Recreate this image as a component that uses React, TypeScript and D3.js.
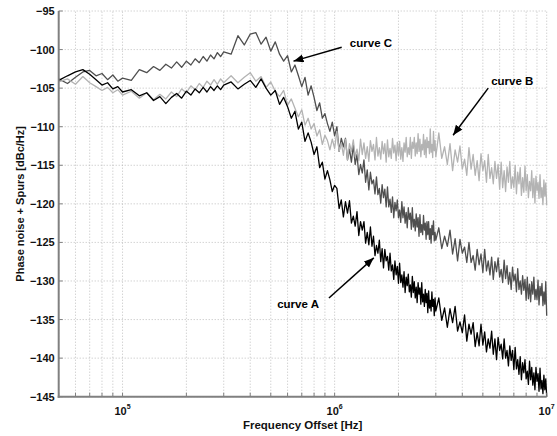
import { useEffect, useRef } from "react"
import * as d3 from "d3"

// frequency offset grid in kHz
const freqKHz = [
  50, 55, 60, 65, 70, 75, 80, 85, 90, 95, 100,
  110, 120, 130, 140, 150, 160, 170, 180, 190, 200, 210, 220, 230, 240, 250, 260, 270, 280, 290, 300,
  325, 350, 375, 400, 425, 450, 475, 500, 525, 550, 575, 600, 625, 650, 675, 700, 725, 750, 775, 800,
  825, 850, 875, 900, 925, 950, 975, 1000,
  1025, 1050, 1075, 1100, 1125, 1150, 1175, 1200, 1225, 1250, 1275, 1300, 1325, 1350, 1375, 1400, 1425, 1450, 1475, 1500,
  1525, 1550, 1575, 1600, 1625, 1650, 1675, 1700, 1725, 1750, 1775, 1800, 1825, 1850, 1875, 1900, 1925, 1950, 1975, 2000,
  2025, 2050, 2075, 2100, 2125, 2150, 2175, 2200, 2225, 2250, 2275, 2300, 2325, 2350, 2375, 2400, 2425, 2450, 2475, 2500,
  2525, 2550, 2575, 2600, 2625, 2650, 2675, 2700, 2725, 2750, 2775, 2800, 2825, 2850, 2875, 2900, 2925, 2950, 2975, 3000,
  3100, 3200, 3300, 3400, 3500, 3600, 3700, 3800, 3900, 4000,
  4100, 4200, 4300, 4400, 4500, 4600, 4700, 4800, 4900, 5000,
  5100, 5200, 5300, 5400, 5500, 5600, 5700, 5800, 5900, 6000,
  6100, 6200, 6300, 6400, 6500, 6600, 6700, 6800, 6900, 7000,
  7100, 7200, 7300, 7400, 7500, 7600, 7700, 7800, 7900, 8000,
  8100, 8200, 8300, 8400, 8500, 8600, 8700, 8800, 8900, 9000,
  9100, 9200, 9300, 9400, 9500, 9600, 9700, 9800, 9900, 10000,
]

const curveA = [
  -104.0, -103.4, -102.9, -102.6, -103.2, -103.9, -104.6, -104.3, -105.1, -104.8, -105.5,
  -105.2, -106.0, -105.6, -106.6, -106.1, -107.0, -106.2, -105.7, -106.3, -105.4, -105.9, -105.1, -105.6, -104.9, -105.5, -104.8, -105.3, -104.7, -105.2, -104.6,
  -104.2, -105.1, -104.5, -104.0, -104.9, -103.8, -105.0, -105.9, -105.3, -107.1, -106.2, -107.4, -108.9, -108.0, -110.3, -109.4, -111.9, -110.8, -112.0, -113.6,
  -112.6, -115.3, -114.6, -116.8, -115.7, -116.9, -118.4, -117.6,
  -118.0, -120.6, -119.5, -121.7, -119.7, -121.2, -119.6, -122.5, -121.6, -122.9, -121.0, -124.1, -122.3, -123.4, -122.3, -125.1, -123.7, -125.3, -123.0, -125.5,
  -124.2, -126.7, -125.4, -126.4, -124.7, -127.5, -125.8, -128.3, -125.9, -127.4, -126.8, -128.6, -126.4, -128.7, -127.9, -129.8, -127.4, -129.2, -128.1, -130.3,
  -127.7, -130.2, -129.2, -130.8, -128.8, -131.5, -129.5, -130.6, -129.1, -131.4, -130.5, -132.1, -129.4, -131.5, -130.1, -132.2, -130.8, -132.8, -130.2, -131.7,
  -130.9, -133.0, -130.2, -132.7, -131.7, -133.3, -131.1, -132.8, -131.6, -134.1, -131.3, -133.5, -132.5, -133.9, -131.4, -133.3, -132.4, -134.5, -132.2, -133.9,
  -132.2, -135.1, -133.5, -136.0, -133.6, -135.4, -133.3, -136.5, -135.3, -136.7,
  -134.4, -137.8, -135.6, -136.9, -135.4, -138.5, -136.7, -138.4, -135.6, -138.3,
  -136.6, -139.2, -137.5, -138.7, -136.5, -139.5, -137.5, -140.2, -137.3, -139.0,
  -138.2, -140.1, -137.5, -140.0, -139.0, -141.0, -138.4, -140.3, -139.0, -141.5,
  -138.6, -141.4, -140.2, -142.1, -139.8, -142.8, -140.6, -141.9, -140.2, -142.7,
  -141.7, -143.4, -140.4, -142.8, -141.2, -143.5, -141.9, -144.1, -141.2, -143.0,
  -142.0, -144.3, -141.3, -144.0, -142.9, -144.6, -142.2, -144.1, -142.7, -145.0,
]

const curveB = [
  -104.2, -103.8, -104.5, -103.5, -104.3, -104.8, -105.3, -104.9, -105.6, -105.2, -105.9,
  -105.4, -106.3, -105.6, -106.5, -105.8, -106.4, -105.5, -106.1, -105.1, -105.6, -104.7, -105.2, -104.4, -104.9, -104.1, -104.6, -103.9, -104.5, -103.8, -104.3,
  -103.4, -104.3, -103.6, -103.0, -104.1, -103.5, -104.9, -104.2, -105.4, -106.1, -105.3, -107.2, -106.4, -107.6, -108.7, -107.8, -109.8, -108.9, -110.3, -109.6,
  -111.2, -110.4, -112.3, -111.1, -111.8, -113.0, -111.6, -112.8,
  -110.6, -113.2, -112.1, -113.7, -111.6, -114.3, -112.2, -113.2, -111.7, -113.9, -112.9, -114.4, -111.6, -113.6, -112.1, -114.1, -112.6, -114.5, -111.8, -113.2,
  -112.3, -114.3, -111.4, -113.8, -112.7, -114.2, -111.9, -113.5, -112.2, -114.6, -111.7, -113.9, -112.8, -114.1, -111.5, -113.4, -112.4, -114.4, -112.0, -113.7,
  -111.9, -114.2, -112.7, -114.5, -112.1, -113.3, -111.4, -113.9, -112.7, -113.6, -111.4, -114.1, -112.0, -112.8, -111.4, -113.8, -112.1, -113.5, -110.9, -113.2,
  -111.6, -113.9, -112.3, -113.0, -111.0, -113.6, -111.7, -114.0, -111.4, -112.7, -111.9, -113.5, -110.3, -113.3, -112.3, -114.0, -110.6, -113.1, -111.8, -113.9,
  -110.8, -114.1, -112.6, -114.9, -112.2, -115.7, -113.0, -114.6, -112.5, -115.5,
  -114.2, -116.3, -112.7, -115.5, -113.6, -116.3, -114.4, -117.0, -113.5, -115.7,
  -114.4, -117.2, -113.6, -116.7, -115.3, -117.4, -114.5, -116.7, -114.9, -118.1,
  -114.6, -117.9, -115.7, -118.4, -115.2, -117.2, -114.5, -118.0, -116.5, -117.9,
  -115.0, -118.7, -115.9, -117.4, -115.3, -118.9, -116.6, -118.5, -115.1, -118.3,
  -116.2, -119.2, -117.1, -118.3, -115.7, -119.2, -116.7, -119.9, -116.4, -118.3,
  -117.2, -119.3, -116.2, -119.2, -117.9, -120.1, -116.9, -119.0, -117.3, -120.2,
]

const curveC = [
  -103.8, -104.4, -103.6, -102.9, -102.7, -103.4, -103.1, -103.9, -103.3, -104.1, -103.7,
  -104.0, -102.6, -103.0, -102.2, -102.7, -101.9, -102.4, -101.6, -102.3, -101.5, -102.0, -101.2, -101.7, -100.9, -101.5, -100.7, -101.2, -100.4, -100.9, -100.3,
  -100.6, -98.2, -99.4, -98.0, -97.8, -99.3, -98.4, -100.2, -99.0, -100.6, -101.5, -100.8, -102.9, -102.0, -103.4, -104.8, -103.6, -105.9, -104.7, -106.2,
  -107.9, -106.9, -108.9, -108.3, -109.6, -110.6, -109.4, -111.2,
  -110.0, -113.2, -111.5, -112.6, -111.5, -114.3, -112.9, -114.6, -112.3, -114.9, -113.6, -116.2, -114.9, -116.0, -114.3, -117.2, -115.6, -118.2, -115.9, -117.4,
  -116.9, -118.7, -116.5, -118.8, -118.0, -119.9, -117.5, -119.2, -118.1, -120.4, -117.8, -120.4, -119.4, -121.1, -119.1, -121.8, -119.8, -120.9, -119.5, -121.8,
  -120.8, -122.4, -119.7, -121.8, -120.4, -122.5, -121.1, -123.1, -120.5, -122.0, -121.2, -123.3, -120.5, -123.0, -122.0, -123.5, -121.3, -123.0, -121.8, -124.2,
  -121.4, -123.7, -122.7, -124.0, -121.5, -123.4, -122.5, -124.6, -122.3, -124.0, -122.3, -124.6, -123.2, -125.1, -122.8, -124.0, -122.2, -124.8, -123.7, -124.7,
  -123.1, -125.8, -124.2, -125.5, -123.4, -126.5, -124.5, -127.4, -124.6, -126.4,
  -125.6, -127.6, -125.0, -127.6, -126.7, -128.6, -125.9, -127.9, -126.5, -128.9,
  -125.9, -128.7, -127.4, -129.2, -126.9, -129.8, -127.5, -128.8, -127.0, -129.5,
  -128.5, -130.2, -127.3, -129.7, -128.0, -130.4, -128.9, -131.1, -128.2, -130.0,
  -129.1, -131.4, -128.4, -131.1, -130.0, -131.7, -129.3, -131.2, -129.8, -132.5,
  -129.5, -132.3, -130.4, -132.7, -130.1, -131.7, -129.5, -132.4, -131.1, -132.4,
  -129.9, -133.1, -130.7, -131.9, -130.3, -133.2, -131.4, -133.0, -130.1, -134.5,
]

const yTicks = [-145, -140, -135, -130, -125, -120, -115, -110, -105, -100, -95]
const xDecades = [5, 6, 7]

// annotation: label position and arrow tail/head, in Hz and dBc/Hz
const annotations = [
  { label: "curve C", textF: 1.18e6, textDb: -99.7, tailF: 1.08e6, tailDb: -99.7, headF: 6.4e5, headDb: -101.5 },
  { label: "curve B", textF: 5.47e6, textDb: -104.6, tailF: 5.3e6, tailDb: -105.0, headF: 3.62e6, headDb: -111.1 },
  { label: "curve A", textF: 5.36e5, textDb: -133.5, tailF: 9.4e5, tailDb: -132.2, headF: 1.53e6, headDb: -127.0 },
]

const series = [
  { name: "C", values: curveC, color: "#4f4f4f" },
  { name: "B", values: curveB, color: "#b3b3b3" },
  { name: "A", values: curveA, color: "#000000" },
]

const FONT = "'Liberation Sans', Arial, Helvetica, sans-serif"

export default function App() {
  const svgRef = useRef<SVGSVGElement>(null)

  useEffect(() => {
    if (!svgRef.current) return
    const svg = d3.select(svgRef.current)
    svg.selectAll("*").remove()

    const width = 557
    const height = 436
    const margin = { top: 11, right: 10.3, bottom: 39.3, left: 58.7 }

    const x = d3.scaleLog().domain([5e4, 1e7]).range([margin.left, width - margin.right])
    const y = d3.scaleLinear().domain([-145, -95]).range([height - margin.bottom, margin.top])

    svg.append("rect").attr("width", width).attr("height", height).attr("fill", "#fff")

    // dotted grid
    const grid = svg.append("g")
    x.ticks().forEach((t) => {
      grid
        .append("line")
        .attr("x1", x(t))
        .attr("x2", x(t))
        .attr("y1", y(-145))
        .attr("y2", y(-95))
        .attr("stroke", "#b0b0b0")
        .attr("stroke-width", 0.8)
        .attr("stroke-dasharray", "1,2")
    })
    yTicks.forEach((t) => {
      grid
        .append("line")
        .attr("x1", x(5e4))
        .attr("x2", x(1e7))
        .attr("y1", y(t))
        .attr("y2", y(t))
        .attr("stroke", "#b0b0b0")
        .attr("stroke-width", 0.8)
        .attr("stroke-dasharray", "1,2")
    })

    // curves
    const line = d3
      .line<number>()
      .x((_, i) => x(freqKHz[i] * 1000))
      .y((d) => y(d))

    series.forEach((s) => {
      svg
        .append("path")
        .datum(s.values)
        .attr("d", line)
        .attr("fill", "none")
        .attr("stroke", s.color)
        .attr("stroke-width", 1.3)
        .attr("stroke-linejoin", "round")
    })

    // axes
    const axisColor = "#808080"
    svg
      .append("line")
      .attr("x1", x(5e4))
      .attr("x2", x(5e4))
      .attr("y1", y(-145) + 1)
      .attr("y2", y(-95))
      .attr("stroke", axisColor)
      .attr("stroke-width", 2)
    svg
      .append("line")
      .attr("x1", x(5e4) - 1)
      .attr("x2", x(1e7))
      .attr("y1", y(-145))
      .attr("y2", y(-145))
      .attr("stroke", axisColor)
      .attr("stroke-width", 2)

    x.ticks().forEach((t) => {
      svg
        .append("line")
        .attr("x1", x(t))
        .attr("x2", x(t))
        .attr("y1", y(-145))
        .attr("y2", y(-145) - 4)
        .attr("stroke", axisColor)
        .attr("stroke-width", 1)
    })
    yTicks.forEach((t) => {
      svg
        .append("line")
        .attr("x1", x(5e4))
        .attr("x2", x(5e4) + 4)
        .attr("y1", y(t))
        .attr("y2", y(t))
        .attr("stroke", axisColor)
        .attr("stroke-width", 1)
      svg
        .append("text")
        .attr("x", x(5e4) - 4)
        .attr("y", y(t))
        .attr("dy", "0.36em")
        .attr("text-anchor", "end")
        .attr("font-family", FONT)
        .attr("font-weight", "bold")
        .attr("font-size", "11px")
        .attr("fill", "#111")
        .text(`\u2212${Math.abs(t)}`)
    })

    xDecades.forEach((p) => {
      const txt = svg
        .append("text")
        .attr("x", x(Math.pow(10, p)))
        .attr("y", 415)
        .attr("text-anchor", "middle")
        .attr("font-family", FONT)
        .attr("font-weight", "bold")
        .attr("font-size", "11px")
        .attr("fill", "#111")
      txt.append("tspan").text("10")
      txt.append("tspan").attr("dy", -6).attr("font-size", "7px").text(String(p))
    })

    // axis labels
    svg
      .append("text")
      .attr("x", (x(5e4) + x(1e7)) / 2)
      .attr("y", 429)
      .attr("text-anchor", "middle")
      .attr("font-family", FONT)
      .attr("font-weight", "bold")
      .attr("font-size", "11.5px")
      .attr("fill", "#111")
      .text("Frequency Offset [Hz]")

    svg
      .append("text")
      .attr("transform", `translate(24, ${(y(-145) + y(-95)) / 2}) rotate(-90)`)
      .attr("text-anchor", "middle")
      .attr("font-family", FONT)
      .attr("font-weight", "bold")
      .attr("font-size", "11px")
      .attr("fill", "#111")
      .text("Phase noise + Spurs [dBc/Hz]")

    // annotations with arrows
    svg
      .append("defs")
      .append("marker")
      .attr("id", "arrowhead")
      .attr("markerUnits", "userSpaceOnUse")
      .attr("markerWidth", 12)
      .attr("markerHeight", 10)
      .attr("refX", 10)
      .attr("refY", 4)
      .attr("orient", "auto")
      .append("path")
      .attr("d", "M0,0 L10,4 L0,8 Z")
      .attr("fill", "#000")

    annotations.forEach((a) => {
      svg
        .append("line")
        .attr("x1", x(a.tailF))
        .attr("y1", y(a.tailDb))
        .attr("x2", x(a.headF))
        .attr("y2", y(a.headDb))
        .attr("stroke", "#000")
        .attr("stroke-width", 1.5)
        .attr("marker-end", "url(#arrowhead)")
      svg
        .append("text")
        .attr("x", x(a.textF))
        .attr("y", y(a.textDb))
        .attr("font-family", FONT)
        .attr("font-weight", "bold")
        .attr("font-size", "11.5px")
        .attr("fill", "#000")
        .text(a.label)
    })
  }, [])

  return (
    <div style={{ position: "absolute", left: 0, top: 0, width: 557, height: 436 }}>
      <svg ref={svgRef} width={557} height={436} style={{ display: "block" }} />
    </div>
  )
}
